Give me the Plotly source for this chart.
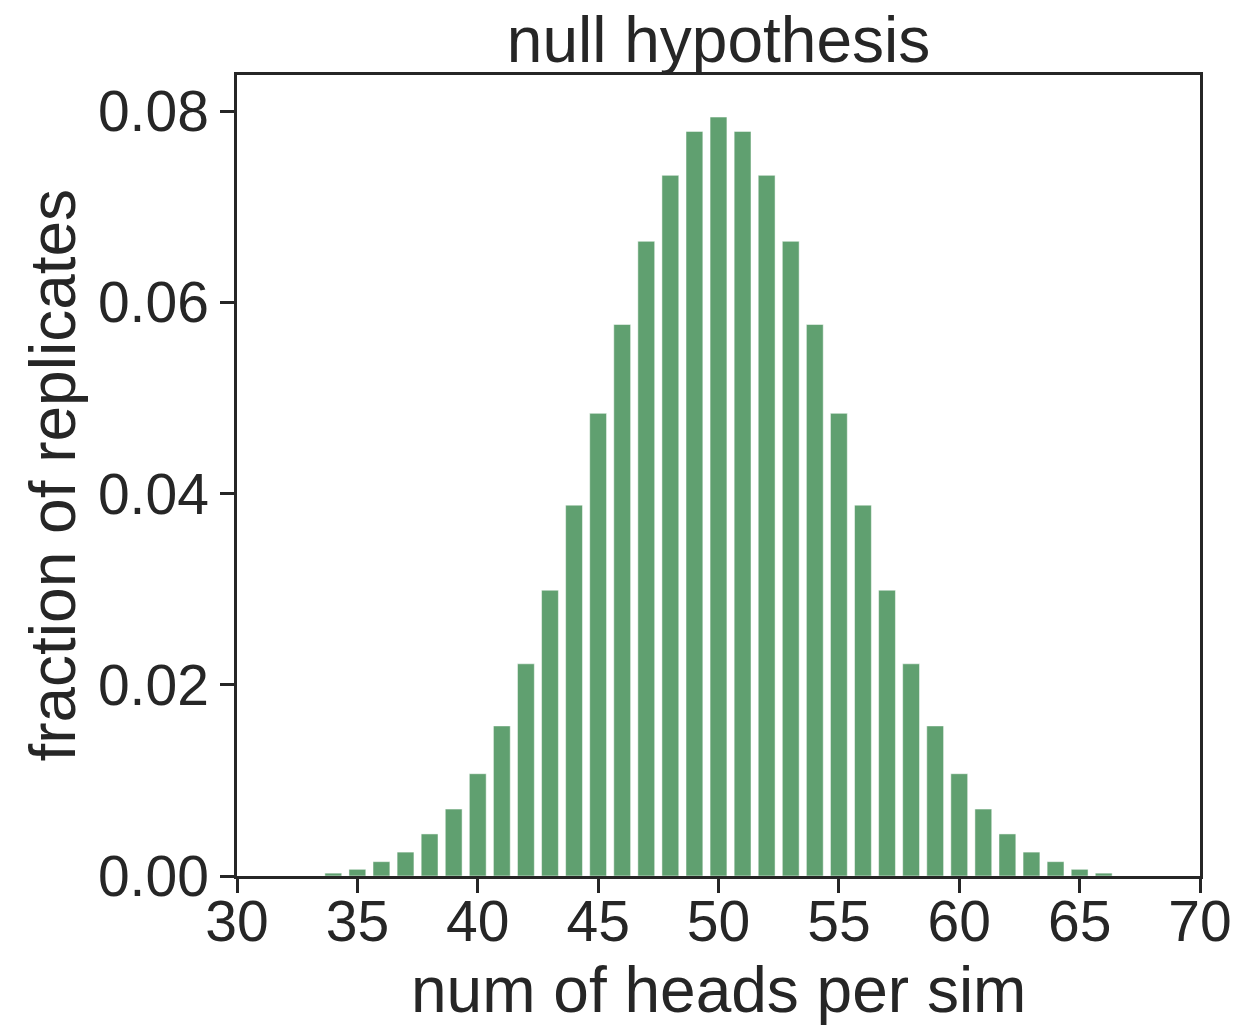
import plotly.graph_objects as go

# number of heads observed per simulation (100 coin flips each)
heads = [34, 35, 36, 37, 38, 39, 40, 41, 42, 43, 44, 45, 46, 47, 48, 49, 50,
         51, 52, 53, 54, 55, 56, 57, 58, 59, 60, 61, 62, 63, 64, 65, 66]

# fraction of replicates with that count
fraction = [0.0003, 0.0007, 0.0015, 0.0025, 0.0044, 0.0070, 0.0107, 0.0157,
            0.0222, 0.0299, 0.0388, 0.0484, 0.0577, 0.0664, 0.0733, 0.0779,
            0.0794,
            0.0779, 0.0733, 0.0664, 0.0577, 0.0484, 0.0388, 0.0299, 0.0222,
            0.0157, 0.0107, 0.0070, 0.0044, 0.0025, 0.0015, 0.0007, 0.0003]

x_ticks = [30, 35, 40, 45, 50, 55, 60, 65, 70]
y_ticks = [0.00, 0.02, 0.04, 0.06, 0.08]

ink = "#262626"
font = "Liberation Sans, Arial, sans-serif"

fig = go.Figure(
    go.Bar(
        x=heads,
        y=fraction,
        width=0.7,
        marker=dict(color="rgb(96,160,112)",
                    line=dict(color="rgba(255,255,255,0.5)", width=1)),
    )
)

axis_common = dict(
    showline=True, linecolor=ink, linewidth=2.5, mirror=True,
    ticks="outside", ticklen=14, tickwidth=2.5, tickcolor=ink,
    showgrid=False, zeroline=False, automargin=False,
    tickfont=dict(family=font, size=57, color=ink),
)

fig.update_layout(
    width=1239, height=1025,
    margin=dict(l=237, r=39, t=75, b=149),
    paper_bgcolor="white", plot_bgcolor="white",
    showlegend=False,
    font=dict(family=font, color=ink),
    title=dict(text="null hypothesis", x=0.5, xref="paper", xanchor="center",
               y=1 - 40 / 1025, yref="container", yanchor="middle",
               font=dict(family=font, size=64, color=ink)),
    xaxis=dict(range=[30, 70], tickvals=x_ticks,
               ticktext=[str(v) for v in x_ticks],
               ticklabelstandoff=-20, **axis_common),
    yaxis=dict(range=[0, 0.0838], tickvals=y_ticks,
               ticktext=[f"{v:.2f}" for v in y_ticks], **axis_common),
    annotations=[
        dict(text="num of heads per sim", xref="paper", yref="paper",
             x=0.5, y=-0.1423, xanchor="center", yanchor="middle",
             showarrow=False, font=dict(family=font, size=64, color=ink)),
        dict(text="fraction of replicates", xref="paper", yref="paper",
             x=-0.192, y=0.5, xanchor="center", yanchor="middle",
             textangle=-90, showarrow=False,
             font=dict(family=font, size=64, color=ink)),
    ],
)

fig.write_html("out.html")
